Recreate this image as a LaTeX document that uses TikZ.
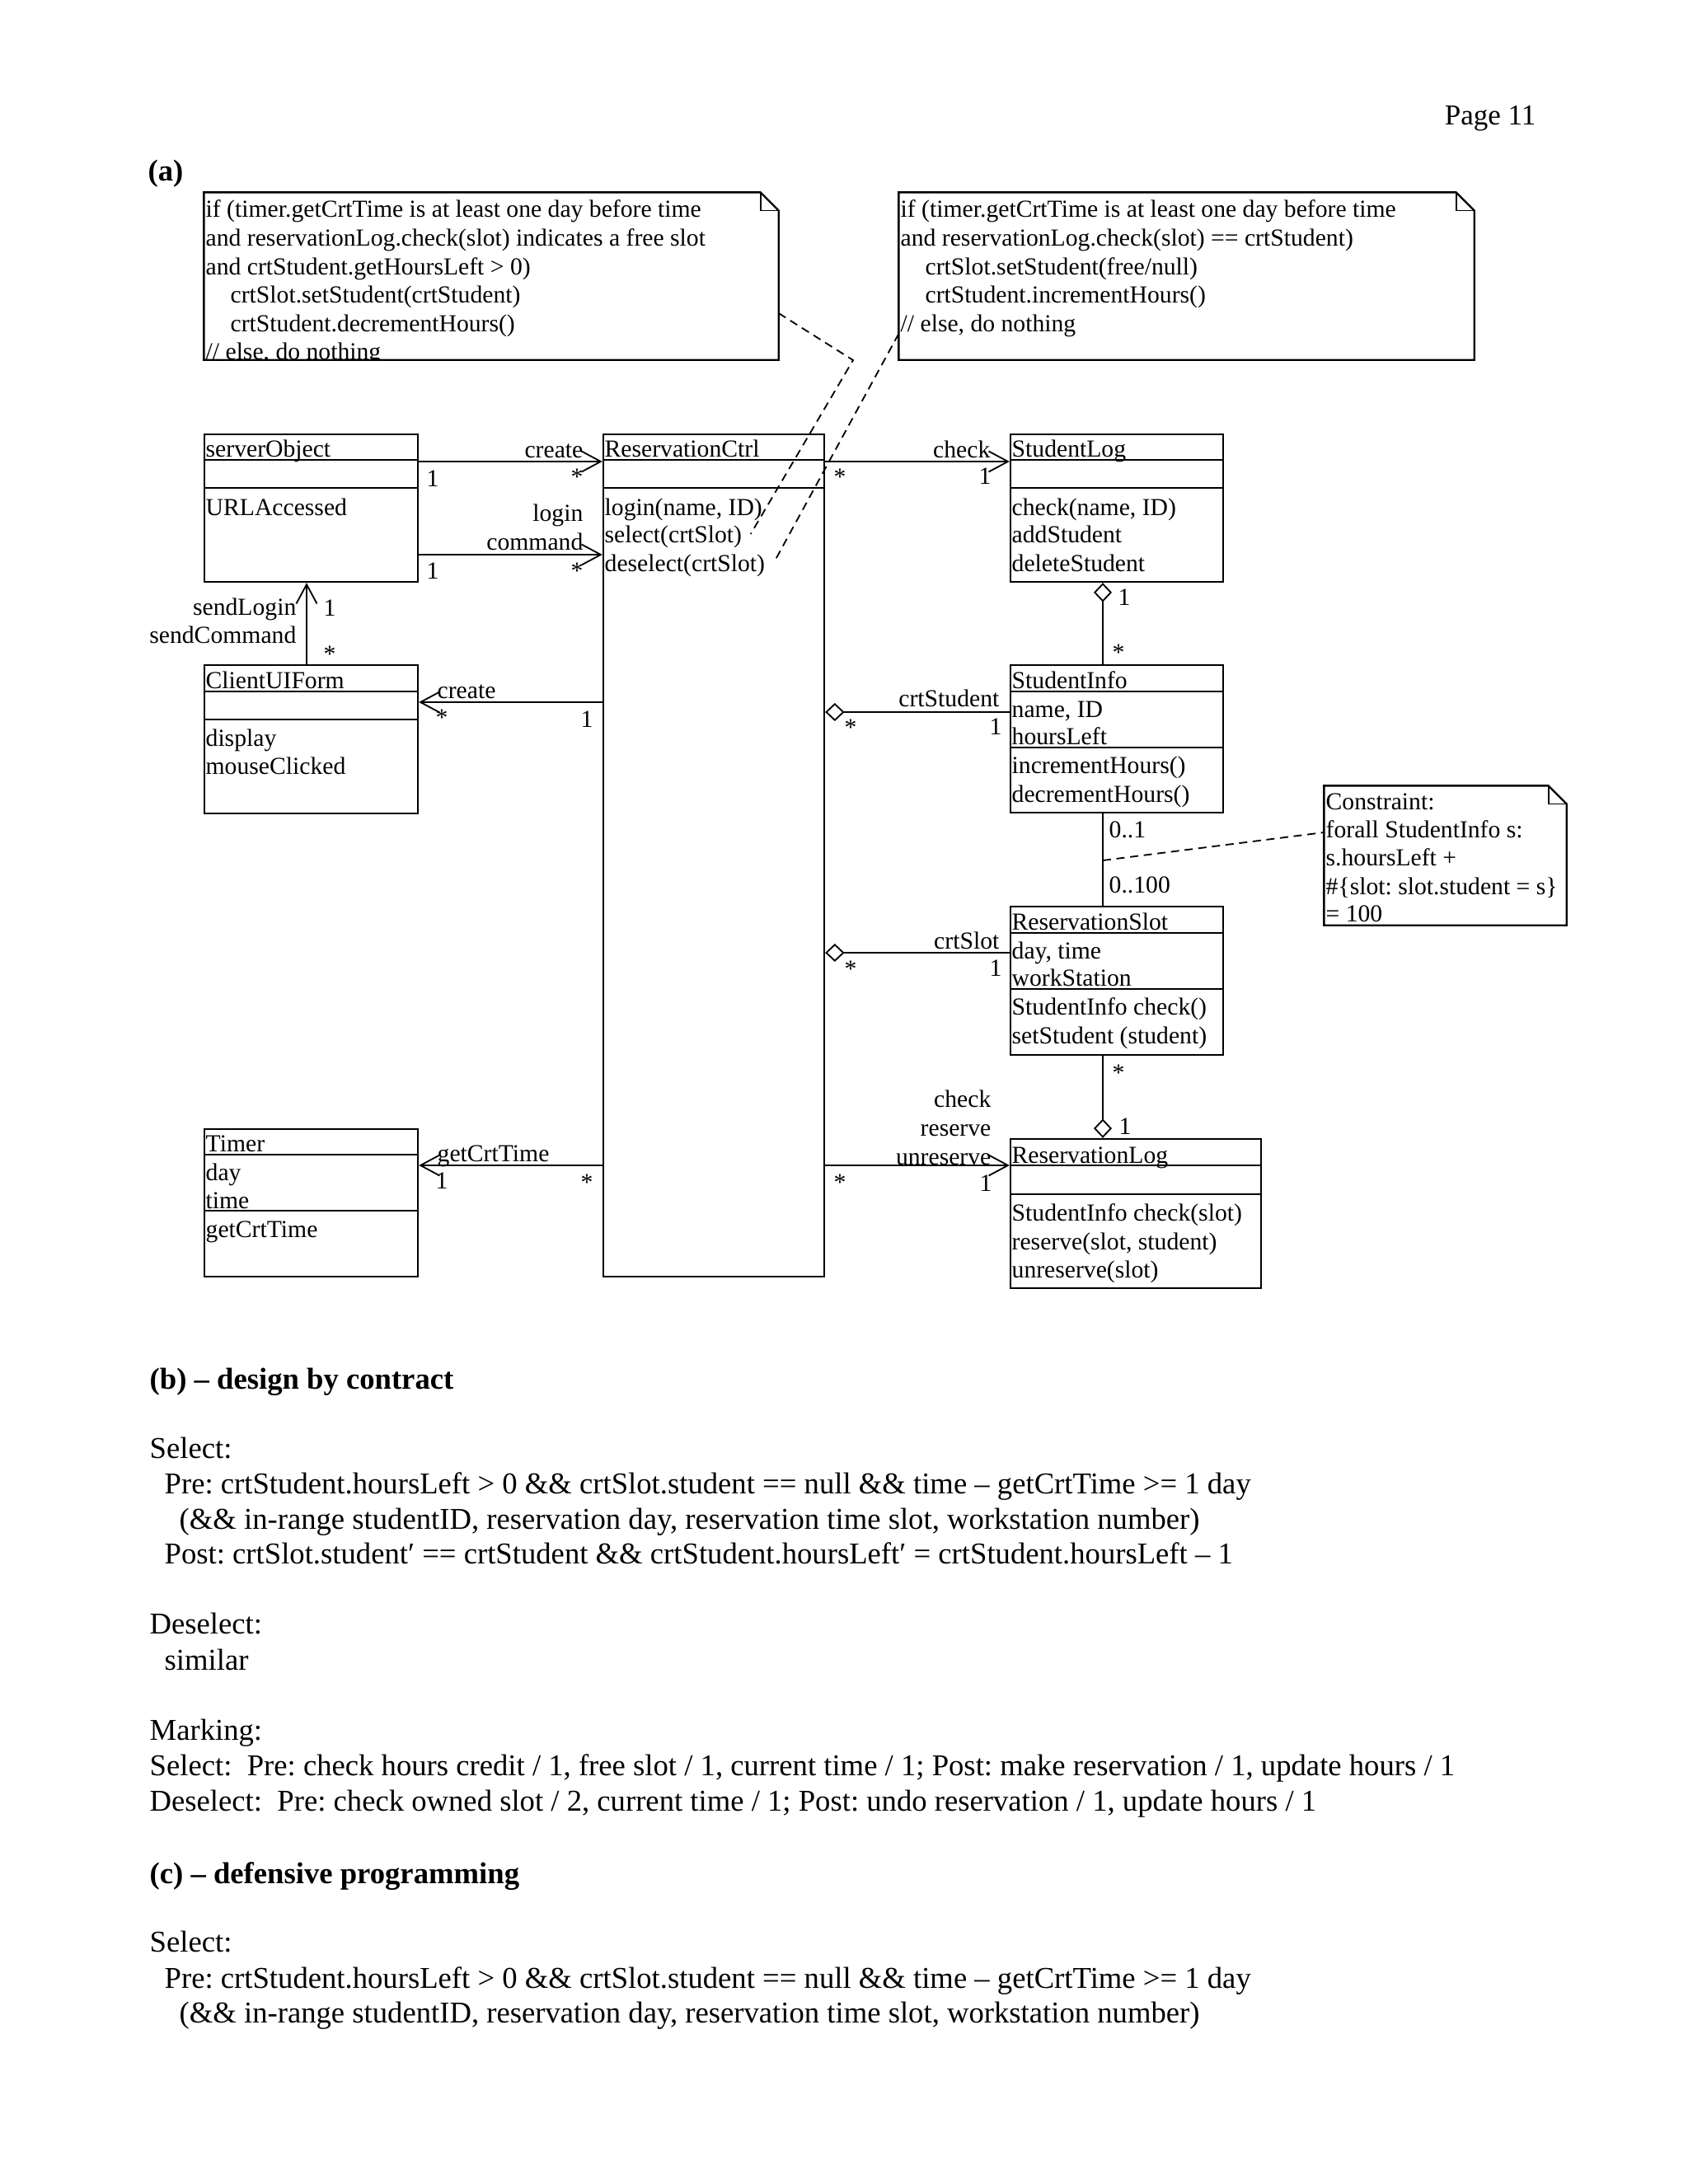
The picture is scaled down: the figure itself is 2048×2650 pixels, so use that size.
\documentclass[tikz,border=0pt]{standalone}
\usepackage{fontspec}
\setmainfont{Liberation Serif}
\usetikzlibrary{arrows.meta,fit,calc}
\newcommand\dfont{\fontsize{8.9}{10.2}\selectfont}
\newcommand\tfont{\fontsize{11}{12.75}\selectfont}
\newcommand\notebox[1]{%
  \draw[box] (#1.north west) -- ([xshift=-6.6pt]#1.north east) -- ([yshift=-6.6pt]#1.north east) -- (#1.south east) -- (#1.south west) -- cycle;
  \draw[line width=0.5pt] ([xshift=-6.6pt]#1.north east) -- ([xshift=-6.6pt,yshift=-6.6pt]#1.north east) -- ([yshift=-6.6pt]#1.north east);}
\frenchspacing
\begin{document}
\begin{tikzpicture}[x=0.3pt,y=-0.3pt,
  box/.style={draw, line width=0.7pt, inner sep=0pt},
  frame/.style={inner sep=0pt},
  cline/.style={line width=0.8pt},
  lbl/.style={inner sep=0pt, font=\dfont, text height=7.2pt, text depth=1.0pt},
  star/.style={lbl, yshift=-1.1pt},
  cl/.style={lbl, anchor=west},
  txt/.style={inner sep=0pt, font=\tfont, text height=8pt, text depth=1.7pt, anchor=west},
  conn/.style={line width=0.55pt},
  arr/.style={conn, -{Straight Barb[length=7pt,width=7.5pt,line width=0.55pt]}},
  agg/.style={conn, {Diamond[open,length=7pt,width=6.6pt,line width=0.55pt]}-},
  ndash/.style={line width=0.55pt, dash pattern=on 3pt off 2pt},
]
\fill[white] (0,0) rectangle (2048,2650);
\useasboundingbox (0,0) rectangle (2048,2650);

% header
\node[inner sep=0pt, font=\fontsize{10.5}{12}\selectfont, anchor=east, text height=7.6pt, text depth=2.2pt] (page) at (1864,142) {Page 11};
\node[txt, font=\tfont\bfseries] (ha) at (179,209) {(a)};

% ---------- notes ----------
\node[frame, fit={(248,234) (944,436)}] (n1) {};
\notebox{n1}
\begin{scope}
\clip (248,234) rectangle (944,436);
\node[cl] (n1a) at (249,253) {if (timer.getCrtTime is at least one day before time};
\node[cl] (n1b) at (249,288) {and reservationLog.check(slot) indicates a free slot};
\node[cl] (n1c) at (249,323) {and crtStudent.getHoursLeft > 0)};
\node[cl] (n1d) at (279,357) {crtSlot.setStudent(crtStudent)};
\node[cl] (n1e) at (279,392) {crtStudent.decrementHours()};
\node[cl] (n1f) at (249,426) {// else, do nothing};
\end{scope}

\node[frame, fit={(1091,234) (1788,436)}] (n2) {};
\notebox{n2}
\node[cl] (n2a) at (1092,253) {if (timer.getCrtTime is at least one day before time};
\node[cl] (n2b) at (1092,288) {and reservationLog.check(slot) == crtStudent)};
\node[cl] (n2c) at (1122,323) {crtSlot.setStudent(free/null)};
\node[cl] (n2d) at (1122,357) {crtStudent.incrementHours()};
\node[cl] (n2e) at (1092,392) {// else, do nothing};

\node[frame, fit={(1607,954) (1900,1122)}] (n3) {};
\notebox{n3}
\node[cl] (n3a) at (1608,972) {Constraint:};
\node[cl] (n3b) at (1608,1006) {forall StudentInfo s:};
\node[cl] (n3c) at (1608,1040) {s.hoursLeft +};
\node[cl] (n3d) at (1608,1075) {\#\{slot: slot.student = s\}};
\node[cl] (n3e) at (1608,1108) {= 100};

% ---------- classes ----------
% serverObject
\node[box, fit={(248,527) (507,706)}] (srv) {};
\draw[cline] (248,558) -- (507,558); \draw[cline] (248,592) -- (507,592);
\node[cl] (srvn) at (249,544) {serverObject};
\node[cl] (srvo) at (249,615) {URLAccessed};

% ReservationCtrl
\node[box, fit={(732,527) (1000,1549)}] (rc) {};
\draw[cline] (732,558) -- (1000,558); \draw[cline] (732,592) -- (1000,592);
\node[cl] (rcn) at (733,544) {ReservationCtrl};
\node[cl] (rco1) at (733,615) {login(name, ID)};
\node[cl] (rco2) at (733,648) {select(crtSlot)};
\node[cl] (rco3) at (733,683) {deselect(crtSlot)};

% StudentLog
\node[box, fit={(1226,527) (1484,706)}] (sl) {};
\draw[cline] (1226,558) -- (1484,558); \draw[cline] (1226,592) -- (1484,592);
\node[cl] (sln) at (1227,544) {StudentLog};
\node[cl] (slo1) at (1227,615) {check(name, ID)};
\node[cl] (slo2) at (1227,648) {addStudent};
\node[cl] (slo3) at (1227,683) {deleteStudent};

% ClientUIForm
\node[box, fit={(248,807) (507,987)}] (cuf) {};
\draw[cline] (248,839) -- (507,839); \draw[cline] (248,873) -- (507,873);
\node[cl] (cufn) at (249,825) {ClientUIForm};
\node[cl] (cufo1) at (249,895) {display};
\node[cl] (cufo2) at (249,929) {mouseClicked};

% StudentInfo
\node[box, fit={(1226,807) (1484,986)}] (si) {};
\draw[cline] (1226,839) -- (1484,839); \draw[cline] (1226,907) -- (1484,907);
\node[cl] (sin) at (1227,825) {StudentInfo};
\node[cl] (sia1) at (1227,860) {name, ID};
\node[cl] (sia2) at (1227,893) {hoursLeft};
\node[cl] (sio1) at (1227,928) {incrementHours()};
\node[cl] (sio2) at (1227,963) {decrementHours()};

% ReservationSlot
\node[box, fit={(1226,1100) (1484,1280)}] (rs) {};
\draw[cline] (1226,1132) -- (1484,1132); \draw[cline] (1226,1200) -- (1484,1200);
\node[cl] (rsn) at (1227,1118) {ReservationSlot};
\node[cl] (rsa1) at (1227,1153) {day, time};
\node[cl] (rsa2) at (1227,1186) {workStation};
\node[cl] (rso1) at (1227,1221) {StudentInfo check()};
\node[cl] (rso2) at (1227,1256) {setStudent (student)};

% Timer
\node[box, fit={(248,1370) (507,1549)}] (tm) {};
\draw[cline] (248,1401) -- (507,1401); \draw[cline] (248,1469) -- (507,1469);
\node[cl] (tmn) at (249,1387) {Timer};
\node[cl] (tma1) at (249,1422) {day};
\node[cl] (tma2) at (249,1456) {time};
\node[cl] (tmo1) at (249,1491) {getCrtTime};

% ReservationLog
\node[box, fit={(1226,1382) (1530,1563)}] (rl) {};
\draw[cline] (1226,1414) -- (1530,1414); \draw[cline] (1226,1449) -- (1530,1449);
\node[cl] (rln) at (1227,1401) {ReservationLog};
\node[cl] (rlo1) at (1227,1471) {StudentInfo check(slot)};
\node[cl] (rlo2) at (1227,1506) {reserve(slot, student)};
\node[cl] (rlo3) at (1227,1540) {unreserve(slot)};

% ---------- connectors ----------
\coordinate (y1) at (0,560);
\coordinate (y2) at (0,673);
\coordinate (y3) at (0,852);
\coordinate (y4) at (0,864);
\coordinate (y5) at (0,1156);
\coordinate (y6) at (0,1414);
\coordinate (xa) at (372,0);
\coordinate (xb) at (1338,0);

% serverObject -> ReservationCtrl (create)
\draw[arr] (srv.east |- y1) -- (rc.west |- y1);
\node[lbl, anchor=east] (l1) at (708,545) {create};
\node[star] (l1s) at (700,574) {*};
\node[lbl] (l1o) at (525,580) {1};
% serverObject -> ReservationCtrl (login command)
\draw[arr] (srv.east |- y2) -- (rc.west |- y2);
\node[lbl, anchor=east] (l2a) at (708,622) {login};
\node[lbl, anchor=east] (l2b) at (708,657) {command};
\node[star] (l2s) at (700,688) {*};
\node[lbl] (l2o) at (525,692) {1};
% ClientUIForm -> serverObject
\draw[arr] (cuf.north -| xa) -- (srv.south -| xa);
\node[lbl, anchor=east] (l3a) at (360,736) {sendLogin};
\node[lbl, anchor=east] (l3b) at (360,770) {sendCommand};
\node[lbl] (l3o) at (400,737) {1};
\node[star] (l3s) at (400,789) {*};
% ReservationCtrl -> ClientUIForm (create)
\draw[arr] (rc.west |- y3) -- (cuf.east |- y3);
\node[lbl, anchor=west] (l4) at (530,837) {create};
\node[star] (l4s) at (536,866) {*};
\node[lbl] (l4o) at (712,872) {1};
% ReservationCtrl -> StudentLog (check)
\draw[arr] (rc.east |- y1) -- (sl.west |- y1);
\node[lbl, anchor=east] (l5) at (1202,545) {check};
\node[lbl] (l5o) at (1195,577) {1};
\node[star] (l5s) at (1019,574) {*};
% StudentLog <>- StudentInfo
\draw[agg] (sl.south -| xb) -- (si.north -| xb);
\node[lbl] (l6o) at (1364,724) {1};
\node[star] (l6s) at (1357,787) {*};
% ReservationCtrl <>- StudentInfo (crtStudent)
\draw[agg] (rc.east |- y4) -- (si.west |- y4);
\node[lbl, anchor=east] (l7) at (1213,847) {crtStudent};
\node[lbl] (l7o) at (1208,881) {1};
\node[star] (l7s) at (1032,878) {*};
% StudentInfo - ReservationSlot
\draw[conn] (si.south -| xb) -- (rs.north -| xb);
\node[lbl, anchor=west] (l8a) at (1345,1006) {0..1};
\node[lbl, anchor=west] (l8b) at (1345,1073) {0..100};
\coordinate (m1) at (1338,1044);
\coordinate (y7) at (0,1010);
\draw[ndash] (m1) -- (n3.west |- y7);
% ReservationCtrl <>- ReservationSlot (crtSlot)
\draw[agg] (rc.east |- y5) -- (rs.west |- y5);
\node[lbl, anchor=east] (l9) at (1213,1141) {crtSlot};
\node[lbl] (l9o) at (1208,1174) {1};
\node[star] (l9s) at (1032,1171) {*};
% ReservationSlot -<> ReservationLog
\draw[agg] (rl.north -| xb) -- (rs.south -| xb);
\node[star] (l10s) at (1357,1297) {*};
\node[lbl] (l10o) at (1365,1366) {1};
% ReservationCtrl -> Timer (getCrtTime)
\draw[arr] (rc.west |- y6) -- (tm.east |- y6);
\node[lbl, anchor=west] (l11) at (530,1399) {getCrtTime};
\node[lbl] (l11o) at (536,1432) {1};
\node[star] (l11s) at (712,1430) {*};
% ReservationCtrl -> ReservationLog
\draw[arr] (rc.east |- y6) -- (rl.west |- y6);
\node[lbl, anchor=east] (l12a) at (1203,1333) {check};
\node[lbl, anchor=east] (l12b) at (1203,1368) {reserve};
\node[lbl, anchor=east] (l12c) at (1203,1403) {unreserve};
\node[lbl] (l12o) at (1196,1435) {1};
\node[star] (l12s) at (1019,1430) {*};

% note links
\coordinate (d1) at (0,380);
\coordinate (k1) at (1035,437);
\coordinate (d2) at (0,405);
\draw[ndash] (n1.east |- d1) -- (k1) -- ([xshift=3pt]rco2.east);
\draw[ndash] (n2.west |- d2) -- ([xshift=3pt]rco3.east);

% ---------- text (b), (c) ----------
\node[txt, font=\tfont\bfseries] (tb) at (181,1675) {(b) – design by contract};
\node[txt] (t1) at (181,1759) {Select:};
\node[txt] (t2) at (199,1802) {Pre: crtStudent.hoursLeft > 0 \&\& crtSlot.student == null \&\& time – getCrtTime >= 1 day};
\node[txt] (t3) at (217,1845) {(\&\& in-range studentID, reservation day, reservation time slot, workstation number)};
\node[txt] (t4) at (199,1887) {Post: crtSlot.student′ == crtStudent \&\& crtStudent.hoursLeft′ = crtStudent.hoursLeft – 1};
\node[txt] (t5) at (181,1972) {Deselect:};
\node[txt] (t6) at (199,2016) {similar};
\node[txt] (t7) at (181,2101) {Marking:};
\node[txt] (t8) at (181,2144) {Select:\ \ Pre: check hours credit / 1, free slot / 1, current time / 1; Post: make reservation / 1, update hours / 1};
\node[txt] (t9) at (181,2187) {Deselect:\ \ Pre: check owned slot / 2, current time / 1; Post: undo reservation / 1, update hours / 1};
\node[txt, font=\tfont\bfseries] (tc) at (181,2275) {(c) – defensive programming};
\node[txt] (t10) at (181,2358) {Select:};
\node[txt] (t11) at (199,2402) {Pre: crtStudent.hoursLeft > 0 \&\& crtSlot.student == null \&\& time – getCrtTime >= 1 day};
\node[txt] (t12) at (217,2444) {(\&\& in-range studentID, reservation day, reservation time slot, workstation number)};
\end{tikzpicture}
\end{document}
